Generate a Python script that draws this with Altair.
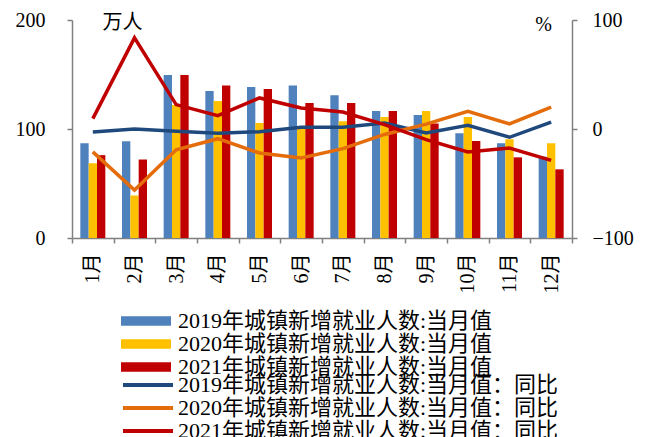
import altair as alt
import pandas as pd

months = ["1月", "2月", "3月", "4月", "5月", "6月", "7月", "8月", "9月", "10月", "11月", "12月"]

bar_names = ["2019年城镇新增就业人数:当月值", "2020年城镇新增就业人数:当月值", "2021年城镇新增就业人数:当月值"]
line_names = ["2019年城镇新增就业人数:当月值：同比", "2020年城镇新增就业人数:当月值：同比", "2021年城镇新增就业人数:当月值：同比"]

v2019 = [87, 88.8, 149.5, 134.8, 138.5, 140, 131, 116.4, 112.8, 96.2, 87, 74.5]
v2020 = [68.6, 39, 122, 125.6, 105.5, 101, 107, 111, 116.4, 111, 90.7, 87]
v2021 = [76, 72, 149.5, 140, 136.7, 123.8, 123.8, 116.4, 105, 88.9, 74, 63]

yoy2019 = [-2.8, 0, -2.1, -4, -2.5, 1.6, 1.6, 5.5, -3.7, 3.4, -7.6, 6.4]
yoy2020 = [-21, -56, -19, -8.9, -22, -26.6, -18, -5, 4.5, 16.3, 4.6, 20]
yoy2021 = [9.5, 83.6, 22.4, 12.3, 28.5, 19.3, 15.6, 4, -9.8, -21, -17.4, -28.8]

bar_colors = ["#4F81BD", "#FFC000", "#C00000"]
line_colors = ["#1F497D", "#E46C0A", "#C00000"]

bar_rows = []
for name, vals in zip(bar_names, [v2019, v2020, v2021]):
    for m, v in zip(months, vals):
        bar_rows.append({"month": m, "series": name, "value": v})
bar_df = pd.DataFrame(bar_rows)

line_rows = []
for name, vals in zip(line_names, [yoy2019, yoy2020, yoy2021]):
    for m, v in zip(months, vals):
        line_rows.append({"month": m, "series2": name, "yoy": v})
line_df = pd.DataFrame(line_rows)

FONT = "Liberation Serif, Noto Sans CJK SC"
AXIS_GRAY = "#808080"

x_enc = alt.X(
    "month:N",
    sort=months,
    scale=alt.Scale(paddingInner=0, paddingOuter=0),
    axis=alt.Axis(
        title=None,
        labelAngle=270,
        labelFont=FONT,
        labelFontSize=20,
        labelColor="#000000",
        labelPadding=10,
        tickBand="extent",
        tickSize=5,
        tickColor=AXIS_GRAY,
        domainColor=AXIS_GRAY,
        domainWidth=1.5,
        tickWidth=1.5,
    ),
)

bars = alt.Chart(bar_df).mark_bar().encode(
    x=x_enc,
    xOffset=alt.XOffset("series:N", sort=bar_names,
                        scale=alt.Scale(paddingInner=0, paddingOuter=alt.ExprRef("1.104"))),
    y=alt.Y(
        "value:Q",
        scale=alt.Scale(domain=[0, 200], nice=False),
        axis=alt.Axis(
            orient="left",
            values=[0, 100, 200],
            title="万人",
            titleAngle=0,
            titleX=50,
            titleY=2,
            titleAlign="center",
            titleBaseline="middle",
            titleFont=FONT,
            titleFontSize=20,
            titleFontWeight="normal",
            titleColor="#000000",
            labelFont=FONT,
            labelFontSize=20,
            labelColor="#000000",
            labelPadding=22,
            tickSize=5,
            tickColor=AXIS_GRAY,
            domainColor=AXIS_GRAY,
            domainWidth=1.5,
            tickWidth=1.5,
            grid=False,
        ),
    ),
    color=alt.Color(
        "series:N",
        scale=alt.Scale(domain=bar_names, range=bar_colors),
        legend=alt.Legend(
            title=None,
            orient="none",
            legendX=49,
            legendY=290.5,
            symbolType="M-1,-0.19H1V0.19H-1Z",
            symbolSize=2500,
            symbolStrokeWidth=0,
            clipHeight=21,
            rowPadding=0,
            padding=0,
            labelOffset=7,
            labelFont=FONT,
            labelFontSize=22,
            labelColor="#000000",
            labelLimit=600,
        ),
    ),
)

lines = alt.Chart(line_df).mark_line(strokeWidth=3.5).encode(
    x=alt.X("month:N", sort=months),
    y=alt.Y(
        "yoy:Q",
        scale=alt.Scale(domain=[-100, 100], nice=False),
        axis=alt.Axis(
            orient="right",
            values=[-100, 0, 100],
            title="%",
            titleAngle=0,
            titleX=-29,
            titleY=4,
            titleAlign="center",
            titleBaseline="middle",
            titleFont=FONT,
            titleFontSize=20,
            titleFontWeight="normal",
            titleColor="#000000",
            labelFont=FONT,
            labelFontSize=20,
            labelColor="#000000",
            labelPadding=15,
            tickSize=5,
            tickColor=AXIS_GRAY,
            domainColor=AXIS_GRAY,
            domainWidth=1.5,
            tickWidth=1.5,
            grid=False,
        ),
    ),
    color=alt.Color(
        "series2:N",
        scale=alt.Scale(domain=line_names, range=line_colors),
        legend=alt.Legend(
            title=None,
            orient="none",
            legendX=49,
            legendY=354.5,
            symbolType="stroke",
            symbolSize=2500,
            symbolStrokeWidth=4,
            clipHeight=21,
            rowPadding=0,
            padding=0,
            labelOffset=3,
            labelFont=FONT,
            labelFontSize=22,
            labelColor="#000000",
            labelLimit=600,
        ),
    ),
)

chart = (
    alt.layer(bars, lines)
    .resolve_scale(y="independent", color="independent")
    .properties(
        width=500,
        height=218,
        autosize=alt.AutoSizeParams(type="none"),
        padding={"left": 64, "top": 12, "right": 66, "bottom": 205},
        background="#ffffff",
    )
    .configure_view(stroke=None)
)

chart.save("out.html", embed_options={"renderer": "svg", "actions": False})
